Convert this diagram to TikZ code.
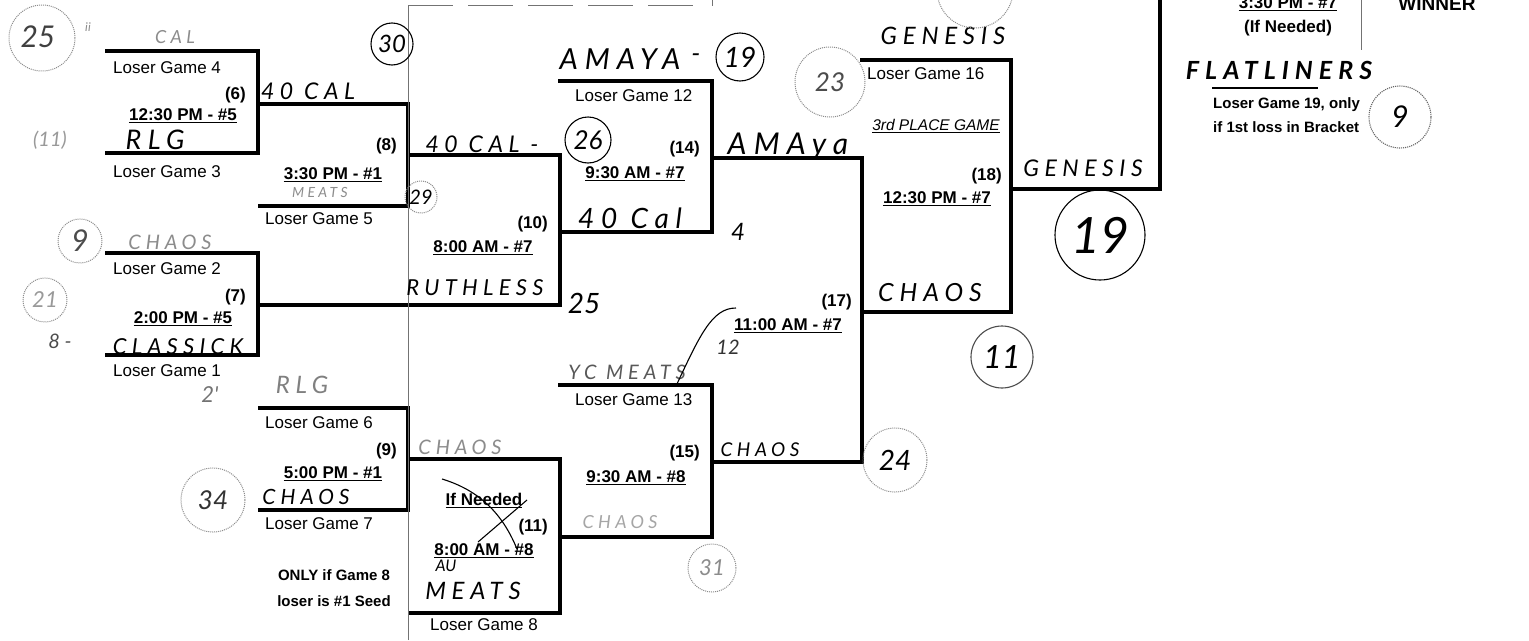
\documentclass[tikz,border=0pt]{standalone}
\usepackage{fontspec}
\setmainfont{Liberation Sans}
\newfontfamily\handfont{Lato}
\newfontfamily\handwide{Lato}[LetterSpace=24]
\usetikzlibrary{calc}

\begin{document}
\begin{tikzpicture}[x=1pt, y=-1pt,
  bracket/.style={line width=3.3pt},
  guide/.style={line width=0.9pt, black!55},
  loser/.style={font=\fontsize{17}{17}\selectfont, inner sep=0pt, anchor=base west},
  gnum/.style={font=\bfseries\fontsize{17}{17}\selectfont, inner sep=0pt, anchor=base east},
  gtime/.style={font=\bfseries\fontsize{17}{17}\selectfont, inner sep=0pt, anchor=base,
    append after command={([yshift=-2.6pt]\tikzlastnode.base west) edge[line width=1.5pt] ([yshift=-2.6pt]\tikzlastnode.base east)}},
  note/.style={font=\bfseries\fontsize{15}{15}\selectfont, inner sep=0pt},
  hw/.style={font=\handfont\itshape\fontsize{#1}{#1}\selectfont, inner sep=0pt},
  hww/.style={font=\handwide\itshape\fontsize{#1}{#1}\selectfont, inner sep=0pt},
  faint/.style={text=black!45},
  ring/.style={draw, circle, line width=1.1pt, inner sep=0pt},
  dotring/.style={draw=black!45, circle, densely dotted, line width=1pt, inner sep=0pt},
  pen/.style={line width=1.1pt},
]
\fill[white] (0,0) rectangle (1529,640);
\useasboundingbox (0,0) rectangle (1529,640);
\clip (0,0) rectangle (1529,640);

% bracket corners
\coordinate (g6a) at (105,51);
\coordinate (g6b) at (105,153);
\coordinate (g6o) at (258,104);
\coordinate (g7a) at (105,253);
\coordinate (g7b) at (105,355);
\coordinate (g7o) at (258,305);
\coordinate (g8b) at (258,206);
\coordinate (g8o) at (408,155);
\coordinate (g9a) at (258,408);
\coordinate (g9b) at (258,510);
\coordinate (g9o) at (408,459);
\coordinate (g10o) at (560,232);
\coordinate (g11b) at (408,613);
\coordinate (g11o) at (560,537);
\coordinate (g14a) at (558,81);
\coordinate (g14o) at (712,158);
\coordinate (g15a) at (558,385);
\coordinate (g15o) at (712,462);
\coordinate (g17o) at (862,312);
\coordinate (g18a) at (860,60);
\coordinate (g18o) at (1011,189);
\coordinate (g19t) at (1160,0);

% bracket lines
\draw[bracket] (g6a) -| (g6o) |- (g6b);
\draw[bracket] (g6o) -| (g8o) |- (g8b);
\draw[bracket] (g7a) -| (g7o) |- (g7b);
\draw[bracket] (g8o) -| (g10o) |- (g7o);
\draw[bracket] (g9a) -| (g9o) |- (g9b);
\draw[bracket] (g9o) -| (g11o) |- (g11b);
\draw[bracket] (g14a) -| (g14o) |- (g10o);
\draw[bracket] (g15a) -| (g15o) |- (g11o);
\draw[bracket] (g14o) -| (g17o) |- (g15o);
\draw[bracket] (g18a) -| (g18o) |- (g17o);
\draw[bracket] (g18o) -| (g19t);

% thin guide lines
\coordinate (cutT) at (408,5);
\coordinate (cutB) at (408,640);
\coordinate (cutR) at (700,5);
\coordinate (tickT) at (712,0);
\coordinate (tickB) at (712,6);
\coordinate (winT) at (1361,0);
\coordinate (winB) at (1361,50);
\coordinate (flA) at (1212,88);
\coordinate (flB) at (1318,88);
\draw[guide] (cutB) -- (cutT);
\draw[guide, dash pattern=on 45pt off 15pt] (cutT) -- (cutR);
\draw[guide] (tickT) -- (tickB);
\draw[guide] (winT) -- (winB);
\draw[line width=1.4pt] (flA) -- (flB);

% printed labels
\node[loser] (lg4) at (113,73) {Loser Game 4};
\node[gnum] (n6) at (246,99) {(6)};
\node[gtime] (t6) at (183,120) {12:30 PM - \#5};
\node[loser] (lg3) at (113,177) {Loser Game 3};
\node[gnum] (n8) at (397,150) {(8)};
\node[gtime] (t8) at (333,179) {3:30 PM - \#1};
\node[loser] (lg5) at (265,224) {Loser Game 5};
\node[loser] (lg2) at (113,274) {Loser Game 2};
\node[gnum] (n7) at (246,301) {(7)};
\node[gtime] (t7) at (183,323) {2:00 PM - \#5};
\node[loser] (lg1) at (113,376) {Loser Game 1};
\node[loser] (lg6) at (265,428) {Loser Game 6};
\node[gnum] (n9) at (397,455) {(9)};
\node[gtime] (t9) at (333,478) {5:00 PM - \#1};
\node[loser] (lg7) at (265,529) {Loser Game 7};
\node[note, anchor=base] (only1) at (334,580) {ONLY if Game 8};
\node[note, anchor=base] (only2) at (334,606) {loser is \#1 Seed};
\node[gnum] (n10) at (548,228) {(10)};
\node[gtime] (t10) at (483,252) {8:00 AM - \#7};
\node[gtime] (ifn11) at (484,505) {If Needed};
\node[gnum] (n11) at (548,531) {(11)};
\node[gtime] (t11) at (484,555) {8:00 AM - \#8};
\node[loser, anchor=base] (lg8) at (484,630) {Loser Game 8};
\node[loser] (lg12) at (575,101) {Loser Game 12};
\node[gnum] (n14) at (700,153) {(14)};
\node[gtime] (t14) at (635,178) {9:30 AM - \#7};
\node[loser] (lg13) at (575,405) {Loser Game 13};
\node[gnum] (n15) at (700,457) {(15)};
\node[gtime] (t15) at (636,482) {9:30 AM - \#8};
\node[gnum] (n17) at (852,306) {(17)};
\node[gtime] (t17) at (788,330) {11:00 AM - \#7};
\node[loser] (lg16) at (867,79) {Loser Game 16};
\node[font=\itshape\fontsize{15.5}{15.5}\selectfont, inner sep=0pt, anchor=base,
  append after command={([yshift=-2.2pt]\tikzlastnode.base west) edge[line width=1.1pt] ([yshift=-2.2pt]\tikzlastnode.base east)}]
  (pl3) at (936,130) {3rd PLACE GAME};
\node[gnum] (n18) at (1002,180) {(18)};
\node[gtime] (t18) at (937,203) {12:30 PM - \#7};
\node[gtime] (t19) at (1288,8) {3:30 PM - \#7};
\node[gnum, anchor=base] (ifn19) at (1288,32) {(If Needed)};
\node[font=\bfseries\fontsize{19}{19}\selectfont, inner sep=0pt, anchor=base] (win) at (1437,10) {WINNER};
\node[note, anchor=base west] (lg19a) at (1213,108) {Loser Game 19, only};
\node[note, anchor=base west] (lg19b) at (1213,132) {if 1st loss in Bracket};

% handwriting
\node[hw=30, text=black!75] (h25) at (38,37) {25};
\node[dotring, minimum size=66pt] (r25) at (42,38) {};
\node[hw=12, faint] (hii) at (88,27) {ii};
\node[hww=18, faint] (hcal) at (175,37) {CAL};
\node[hww=23] (h40cal) at (308,91) {40 CAL};
\node[hw=24, ring, minimum size=42pt] (r30) at (392,44) {30};
\node[hw=20, text=black!40] (h11a) at (50,140) {(11)};
\node[hww=27] (hrlg) at (155,140) {RLG};
\node[hww=14, faint] (hmeats1) at (320,192) {MEATS};
\node[hw=20, dotring, text=black, minimum size=32pt] (r29) at (421,197) {29};
\node[hww=23] (h40cal2) at (482,144) {40 CAL -};
\node[hw=26, ring, minimum size=46pt] (r26) at (588,140) {26};
\node[hww=29] (hamaya1) at (620,59) {AMAYA};
\node[hw=26] (hdash) at (696,58) {-};
\node[hw=28, ring, minimum size=48pt] (r19a) at (740,57) {19};
\node[hww=28] (h40cal3) at (630,218) {40 Cal};
\node[hw=24] (h4) at (738,232) {4};
\node[hww=30] (hamaya2) at (788,146) {AMAya};
\node[hw=30, text=black!70, dotring, minimum size=44pt] (r9) at (80,241) {9};
\node[hww=20, faint] (hchaos1) at (170,242) {CHAOS};
\node[hw=22, text=black!40, dotring, minimum size=44pt] (r21) at (45,300) {21};
\node[hw=20, text=black!70] (h8) at (60,341) {8 -};
\node[hww=22] (hclass) at (178,347) {CLASSICK};
\node[hww=22] (hruth) at (475,288) {RUTHLESS};
\node[hw=28] (h25b) at (584,303) {25};
\node[hw=22, text=black!55] (h2) at (210,395) {2'};
\node[hww=24, text=black!50] (hrlg2) at (302,385) {RLG};
\node[hw=26, text=black!80, dotring, minimum size=64pt] (r34) at (213,500) {34};
\node[hww=21] (hchaos2) at (306,497) {CHAOS};
\node[hww=20, faint] (hchaos3) at (460,447) {CHAOS};
\node[hw=16] (hau) at (446,566) {AU};
\node[hww=24] (hmeats2) at (473,591) {MEATS};
\node[hww=20, text=black!65] (hmeats3) at (627,372) {YC MEATS};
\node[hw=20, text=black!80] (h12) at (728,347) {12};
\node[hww=18, text=black!35] (hchaos4) at (620,522) {CHAOS};
\node[hw=22, text=black!45, dotring, minimum size=48pt] (r31) at (712,568) {31};
\node[hww=19] (hchaos5) at (760,450) {CHAOS};
\node[hw=28, dotring, text=black, minimum size=64pt] (r24) at (895,460) {24};
\node[hww=24] (hgen1) at (943,36) {GENESIS};
\node[hw=26, text=black!70, dotring, minimum size=70pt] (r23) at (830,82) {23};
\node[hw=24, text=black!60, dotring, minimum size=76pt] (r32) at (975,-10) {32};
\node[hww=25] (hchaos6) at (930,293) {CHAOS};
\node[hww=23] (hgen2) at (1083,168) {GENESIS};
\node[hw=50, ring, minimum size=90pt] (r19b) at (1100,235) {19};
\node[hw=32, ring, draw=black!70, minimum size=62pt] (r11) at (1002,357) {11};
\node[hww=25, font=\handwide\bfseries\itshape\fontsize{25}{25}\selectfont] (hflat) at (1279,70) {FLATLINERS};
\node[hw=30, ring, draw=black!60, densely dotted, minimum size=62pt] (r9b) at (1400,117) {9};

% pen strokes: crossed-out "If Needed" and the arc at game 13
\coordinate (xa1) at (442,479);
\coordinate (xa2) at (517,549);
\coordinate (xb1) at (478,542);
\coordinate (xb2) at (527,500);
\draw[pen] (xa1) .. controls (485,492) and (505,520) .. (xa2);
\draw[pen] (xb1) -- (xb2);
\coordinate (arc1) at (676,386);
\coordinate (arc2) at (736,308);
\draw[pen] (arc1) .. controls (700,335) and (712,308) .. (arc2);

\end{tikzpicture}
\end{document}
